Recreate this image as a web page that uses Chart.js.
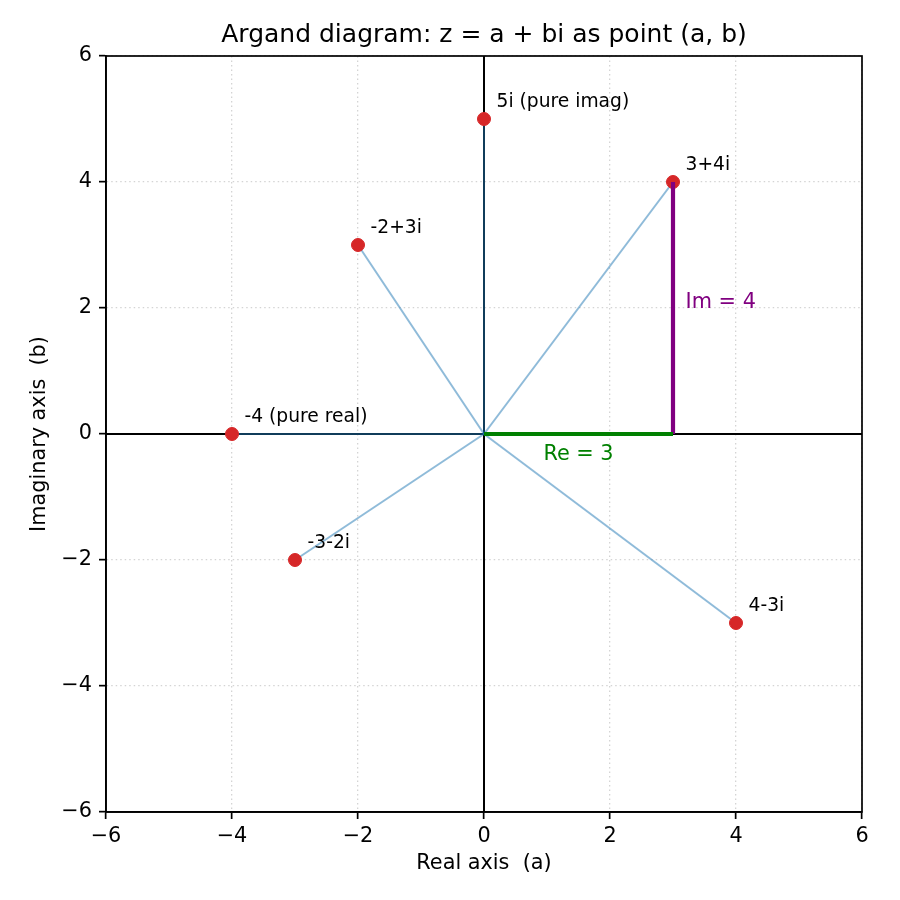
<!DOCTYPE html>
<html>
<head>
<meta charset="utf-8">
<script src="https://cdn.jsdelivr.net/npm/chart.js@4.4.1/dist/chart.umd.min.js"></script>
<style>
  html, body { margin: 0; padding: 0; background: #fff; }
</style>
</head>
<body>
<canvas id="argand" width="900" height="900"></canvas>
<script>
// complex numbers shown as points (a, b)
const pointLabels = ['3+4i', '-2+3i', '-3-2i', '4-3i', '5i (pure imag)', '-4 (pure real)'];
const reParts = [3, -2, -3, 4, 0, -4];
const imParts = [4, 3, -2, -3, 5, 0];

// the worked example z = 3 + 4i
const exampleRe = 3;
const exampleIm = 4;

// axis range and ticks
const axisMin = -6;
const axisMax = 6;
const tickStep = 2;

const chartTitle = 'Argand diagram: z = a + bi as point (a, b)';
const FONT = "'DejaVu Sans', sans-serif";

// vectors from the origin to each point
const vectorSets = reParts.map(function (a, i) {
    return {
        type: 'line',
        data: [{x: 0, y: 0}, {x: a, y: imParts[i]}],
        borderColor: 'rgba(31, 119, 180, 0.5)',
        borderWidth: 2,
        pointRadius: 0,
        fill: false,
        order: 2
    };
});

const datasets = [
    // real and imaginary axes
    {
        type: 'line',
        data: [{x: axisMin, y: 0}, {x: axisMax, y: 0}],
        borderColor: '#000', borderWidth: 2, pointRadius: 0, order: 4
    },
    {
        type: 'line',
        data: [{x: 0, y: axisMin}, {x: 0, y: axisMax}],
        borderColor: '#000', borderWidth: 2, pointRadius: 0, order: 4
    }
].concat(vectorSets).concat([
    // the points themselves
    {
        type: 'scatter',
        data: reParts.map(function (a, i) { return {x: a, y: imParts[i]}; }),
        backgroundColor: '#d62728',
        borderColor: '#d62728',
        pointRadius: 6.5,
        pointHoverRadius: 6.5,
        order: 1
    },
    // Re and Im components of 3+4i
    {
        type: 'line',
        data: [{x: 0, y: 0}, {x: exampleRe, y: 0}],
        borderColor: 'green', borderWidth: 4.2, pointRadius: 0, order: 0
    },
    {
        type: 'line',
        data: [{x: exampleRe, y: 0}, {x: exampleRe, y: exampleIm}],
        borderColor: 'purple', borderWidth: 4.2, pointRadius: 0, order: 0
    }
]);

// title over the plot area, text annotations, full frame
const annotate = {
    id: 'annotate',
    afterDatasetsDraw: function (chart) {
        const ctx = chart.ctx;
        const xs = chart.scales.x, ys = chart.scales.y;
        const a = chart.chartArea;
        ctx.save();
        ctx.fillStyle = '#000';
        ctx.font = '25px ' + FONT;
        ctx.textAlign = 'center';
        ctx.textBaseline = 'middle';
        ctx.fillText(chartTitle, (a.left + a.right) / 2, 35);

        ctx.font = '18.7px ' + FONT;
        ctx.textAlign = 'left';
        ctx.textBaseline = 'bottom';
        pointLabels.forEach(function (t, i) {
            ctx.fillText(t, xs.getPixelForValue(reParts[i]) + 12.5, ys.getPixelForValue(imParts[i]) - 8);
        });

        ctx.font = '20.8px ' + FONT;
        ctx.textBaseline = 'middle';
        ctx.fillStyle = 'purple';
        ctx.fillText('Im = ' + exampleIm, xs.getPixelForValue(exampleRe + 0.2), ys.getPixelForValue(exampleIm / 2) - 5);
        ctx.fillStyle = 'green';
        ctx.textAlign = 'center';
        ctx.fillText('Re = ' + exampleRe, xs.getPixelForValue(exampleRe / 2), ys.getPixelForValue(-0.3) + 2);

        ctx.strokeStyle = '#000';
        ctx.lineWidth = 1.7;
        ctx.strokeRect(a.left, a.top, a.right - a.left, a.bottom - a.top);
        ctx.restore();
    }
};

function minusTick(v) {
    return String(v).replace('-', '\u2212');
}

new Chart(document.getElementById('argand'), {
    type: 'scatter',
    data: { datasets: datasets },
    options: {
        responsive: false,
        animation: false,
        layout: { padding: { left: 0, right: 38, top: 56, bottom: 0 } },
        plugins: {
            legend: { display: false },
            tooltip: { enabled: false },
            title: { display: false }
        },
        scales: {
            x: {
                type: 'linear',
                min: axisMin, max: axisMax,
                afterFit: function (s) { s.height = 88; },
                ticks: { stepSize: tickStep, color: '#000', padding: 5, maxRotation: 0,
                         font: { family: FONT, size: 20.8 }, callback: minusTick },
                grid: { color: '#d4d4d4', lineWidth: 1.3, tickLength: 7, tickColor: '#000', tickWidth: 1.7 },
                border: { color: '#000', width: 1.7, dash: [1.5, 3] },
                title: { display: true, text: 'Real axis  (a)', color: '#000',
                         font: { family: FONT, size: 20.8 }, padding: { top: 0, bottom: 24 } }
            },
            y: {
                type: 'linear',
                min: axisMin, max: axisMax,
                afterFit: function (s) { s.width = 106; },
                ticks: { stepSize: tickStep, color: '#000', padding: 7,
                         font: { family: FONT, size: 20.8 }, callback: minusTick },
                grid: { color: '#d4d4d4', lineWidth: 1.3, tickLength: 7, tickColor: '#000', tickWidth: 1.7 },
                border: { color: '#000', width: 1.7, dash: [1.5, 3] },
                title: { display: true, text: 'Imaginary axis  (b)', color: '#000',
                         font: { family: FONT, size: 20.8 }, padding: { top: 27, bottom: 0 } }
            }
        }
    },
    plugins: [annotate]
});
</script>
</body>
</html>
